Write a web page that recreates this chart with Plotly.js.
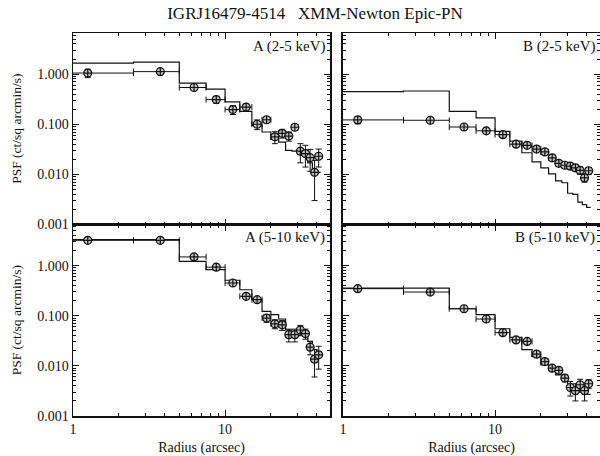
<!DOCTYPE html>
<html>
<head>
<meta charset="utf-8">
<script src="https://cdn.plot.ly/plotly-3.0.1.min.js"></script>
<style>html,body{margin:0;padding:0;background:#fff;}#chart{width:600px;height:456px;}</style>
</head>
<body>
<div id="chart"></div>
<script>
// Radial bins (arcsec)
const binEdges = [0, 2.5, 5, 7.5, 10, 12.5, 15, 17.5, 20, 22.5, 25, 27.5, 30, 32.5, 35, 37.5, 40, 42.5];
const radius = [1.25, 3.75, 6.25, 8.75, 11.25, 13.75, 16.25, 18.75, 21.25, 23.75, 26.25, 28.75, 31.25, 33.75, 36.25, 38.75, 41.25];
const radiusHalfWidth = 1.25;

// Source A, 2-5 keV
const psfA25 = [1.05, 1.12, 0.54, 0.31, 0.196, 0.22, 0.100, 0.123, 0.056, 0.066, 0.058, 0.087, 0.029, 0.026, 0.0215, 0.011, 0.023];
const errA25 = [0.20, 0.12, 0.06, 0.05, 0.04, 0.03, 0.022, 0.016, 0.015, 0.013, 0.012, 0.010, 0.012, 0.012, 0.010, 0.008, 0.009];
const modelA25 = [1.65, 1.73, 0.66, 0.50, 0.28, 0.18, 0.095, 0.070, 0.050, 0.044, 0.030, 0.029, 0.026, 0.025, 0.017, 0.012, 0.011];

// Source B, 2-5 keV
const psfB25 = [0.122, 0.120, 0.088, 0.074, 0.062, 0.040, 0.038, 0.032, 0.028, 0.0214, 0.0166, 0.0152, 0.0146, 0.0135, 0.0120, 0.0085, 0.0118];
const errB25 = [0.020, 0.015, 0.008, 0.006, 0.005, 0.004, 0.004, 0.003, 0.003, 0.0025, 0.002, 0.002, 0.002, 0.002, 0.002, 0.0015, 0.0018];
const modelB25 = [0.446, 0.46, 0.18, 0.134, 0.072, 0.046, 0.027, 0.0178, 0.0135, 0.0102, 0.0074, 0.0068, 0.0042, 0.0040, 0.0028, 0.0025, 0.0022];

// Source A, 5-10 keV
const psfA510 = [3.2, 3.2, 1.49, 0.93, 0.45, 0.244, 0.209, 0.090, 0.069, 0.066, 0.042, 0.042, 0.052, 0.044, 0.0236, 0.0136, 0.0166];
const errA510 = [0.15, 0.15, 0.12, 0.07, 0.04, 0.03, 0.02, 0.016, 0.014, 0.015, 0.012, 0.012, 0.012, 0.010, 0.007, 0.0076, 0.008];
const modelA510 = [3.3, 3.3, 1.22, 0.83, 0.51, 0.33, 0.21, 0.122, 0.105, 0.086, 0.052, 0.048, 0.044, 0.040, 0.031, 0.021, 0.0142];

// Source B, 5-10 keV
const psfB510 = [0.347, 0.297, 0.138, 0.086, 0.046, 0.033, 0.0307, 0.0171, 0.0122, 0.0090, 0.0081, 0.0057, 0.0037, 0.0032, 0.0042, 0.0032, 0.0044];
const errB510 = [0.02, 0.02, 0.008, 0.006, 0.003, 0.0025, 0.0025, 0.0015, 0.0012, 0.001, 0.001, 0.0009, 0.0012, 0.0012, 0.0012, 0.0012, 0.0009];
const modelB510 = [0.357, 0.355, 0.138, 0.105, 0.055, 0.037, 0.021, 0.0154, 0.0105, 0.0090, 0.0066, 0.0052, 0.0042, 0.0036, 0.0033, 0.0029, 0.0027];

const panelLabels = ['A (2-5 keV)', 'B (2-5 keV)', 'A (5-10 keV)', 'B (5-10 keV)'];
const yTickVals = [0.001, 0.01, 0.1, 1];
const yTickText = ['0.001', '0.010', '0.100', '1.000'];
const yMinorVals = [0.002,0.003,0.004,0.005,0.006,0.007,0.008,0.009,0.02,0.03,0.04,0.05,0.06,0.07,0.08,0.09,0.2,0.3,0.4,0.5,0.6,0.7,0.8,0.9,2,3,4,5,6];
const xTickVals = [1, 10];
const xTickText = ['1', '10'];
const xMinorVals = [2,3,4,5,6,7,8,9,20,30,40];

const FONT = 'Liberation Serif, Times New Roman, serif';
const INK = '#111';

// step-line x: bin edges (zero edge moved off the left of the log axis)
const stepX = binEdges.map(e => e > 0 ? e : 0.1);

function panel(psf, err, model, xa, ya) {
  const stepY = model.concat([model[model.length - 1]]);
  return [
    {
      x: stepX, y: stepY, xaxis: xa, yaxis: ya, type: 'scatter', mode: 'lines',
      line: {shape: 'hv', color: INK, width: 1.2}, hoverinfo: 'skip', showlegend: false
    },
    {
      x: radius, y: psf, xaxis: xa, yaxis: ya, type: 'scatter', mode: 'markers',
      marker: {symbol: 'circle-cross', size: 8, color: '#c4c4c4', line: {color: INK, width: 1.2}},
      error_y: {type: 'data', array: err, visible: true, color: INK, thickness: 1, width: 3},
      error_x: {type: 'constant', value: radiusHalfWidth, visible: true, color: INK, thickness: 1, width: 3},
      showlegend: false
    }
  ];
}

const data = [].concat(
  panel(psfA25, errA25, modelA25, 'x', 'y'),
  panel(psfB25, errB25, modelB25, 'x2', 'y2'),
  panel(psfA510, errA510, modelA510, 'x3', 'y3'),
  panel(psfB510, errB510, modelB510, 'x4', 'y4')
);

const xDomL = [0, 0.4877], xDomR = [0.5123, 1];
const yDomT = [0.5, 1], yDomB = [0, 0.5];

function xAxis(domain, anchor, labels) {
  return {
    type: 'log', range: [0, 1.69], domain: domain, anchor: anchor,
    showline: true, linecolor: INK, linewidth: 1.5, mirror: 'ticks',
    ticks: 'inside', ticklen: 6, tickwidth: 1, tickcolor: INK,
    tickmode: 'array', tickvals: xTickVals, ticktext: xTickText,
    showticklabels: labels, showgrid: false, zeroline: false,
    minor: {tickmode: 'array', tickvals: xMinorVals, ticks: 'inside', ticklen: 3, tickwidth: 1, tickcolor: INK, showgrid: false},
    tickfont: {family: FONT, size: 14, color: INK},
    title: labels ? {text: 'Radius (arcsec)', font: {family: FONT, size: 14, color: INK}, standoff: 7} : {text: ''}
  };
}
function yAxis(domain, anchor, labels) {
  return {
    type: 'log', range: [-3, 0.82], domain: domain, anchor: anchor,
    showline: true, linecolor: INK, linewidth: 1.5, mirror: 'ticks',
    ticks: 'inside', ticklen: 6, tickwidth: 1, tickcolor: INK,
    tickmode: 'array', tickvals: yTickVals, ticktext: yTickText,
    showticklabels: labels, showgrid: false, zeroline: false,
    minor: {tickmode: 'array', tickvals: yMinorVals, ticks: 'inside', ticklen: 3, tickwidth: 1, tickcolor: INK, showgrid: false},
    tickfont: {family: FONT, size: 14, color: INK},
    title: labels ? {text: 'PSF (ct/sq arcmin/s)', font: {family: FONT, size: 13.5, color: INK}, standoff: 12} : {text: ''}
  };
}

const axisRefs = [['x', 'y'], ['x2', 'y2'], ['x3', 'y3'], ['x4', 'y4']];
const annotations = panelLabels.map((t, i) => ({
  text: t, xref: axisRefs[i][0] + ' domain', yref: axisRefs[i][1] + ' domain',
  x: 0.99, y: 0.985, xanchor: 'right', yanchor: 'top', showarrow: false,
  font: {family: FONT, size: 15, color: INK}
}));

const layout = {
  width: 600, height: 456,
  margin: {l: 73, r: 0, t: 33, b: 40, pad: 0},
  paper_bgcolor: '#fff', plot_bgcolor: '#fff',
  font: {family: FONT, color: INK},
  title: {
    text: 'IGRJ16479-4514\u00A0\u00A0\u00A0XMM-Newton Epic-PN',
    font: {family: FONT, size: 17, color: INK},
    xref: 'container', yref: 'container', x: 0.525, y: 0.972, xanchor: 'center', yanchor: 'middle'
  },
  xaxis: xAxis(xDomL, 'y', false),
  yaxis: yAxis(yDomT, 'x', true),
  xaxis2: xAxis(xDomR, 'y2', false),
  yaxis2: yAxis(yDomT, 'x2', false),
  xaxis3: xAxis(xDomL, 'y3', true),
  yaxis3: yAxis(yDomB, 'x3', true),
  xaxis4: xAxis(xDomR, 'y4', true),
  yaxis4: yAxis(yDomB, 'x4', false),
  annotations: annotations,
  showlegend: false
};

Plotly.newPlot('chart', data, layout, {displayModeBar: false, staticPlot: true});
</script>
</body>
</html>
